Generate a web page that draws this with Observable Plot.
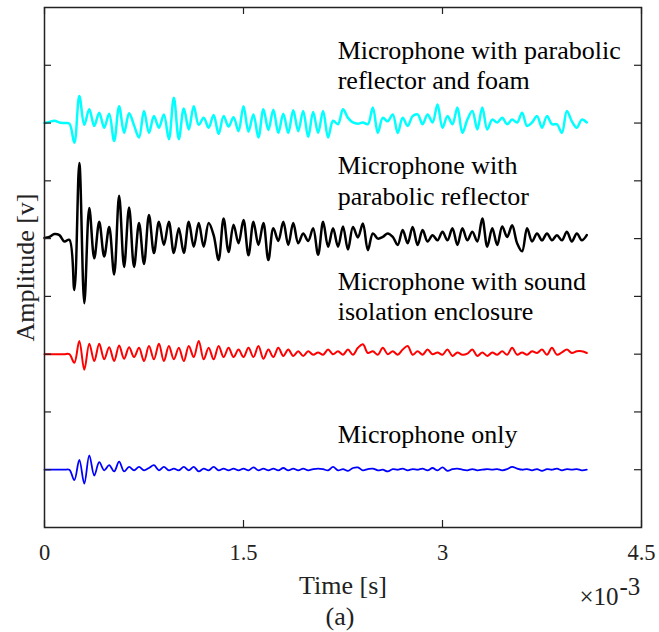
<!DOCTYPE html>
<html>
<head>
<meta charset="utf-8">
<script src="https://cdn.jsdelivr.net/npm/d3@7"></script>
<script src="https://cdn.jsdelivr.net/npm/@observablehq/plot@0.6"></script>
<style>
  html, body { margin: 0; padding: 0; background: #fff; }
  #chart svg { display: block; }
</style>
</head>
<body>
<div id="chart"></div>
<script>
// ---- data ----
const seriesNames = ["Microphone with parabolic\nreflector and foam", "Microphone with\nparabolic reflector", "Microphone with sound\nisolation enclosure", "Microphone only"];
const seriesColors = ["#00ffff", "#000000", "#ff0000", "#0000ff"];
const seriesOffsets = [70, 50, 30, 10];
const sampleStep = 3.75e-5; // seconds between samples

const cyanValues = [
  0.0, 0.2, 0.4, 0.1, 0.0, -0.1, -3.4, 4.7, -0.3, 2.4,
  -0.5, 1.8, -0.8, 1.6, -3.1, 2.9, -1.7, 1.7, -0.4, -2.5,
  2.1, -1.7, 1.2, -0.8, 1.5, -2.8, 4.4, -2.8, 2.5, -1.1,
  2.9, -0.3, 0.9, -0.8, 1.4, -1.9, 1.2, -0.6, 1.0, -1.4,
  2.9, -1.5, 1.5, -2.5, 2.4, -1.2, 2.3, -1.7, 1.6, -1.7,
  2.2, -1.4, 2.1, -2.4, 1.9, -1.7, 2.1, -2.5, 0.4, -0.2,
  2.4, 0.9, 0.1, -0.1, 0.1, -0.2, 2.7, -1.7, 0.9, 0.3,
  1.5, -1.7, 0.9, -0.5, 1.2, 1.5, -0.2, 1.5, 0.1, 3.2,
  -0.8, 1.2, -0.2, 2.7, -1.7, 0.6, 2.1, -1.1, 2.7, -1.1,
  0.6, 0.1, 0.9, -0.2, 0.6, 0.1, 1.8, -0.5, 0.1, 1.2,
  -0.8, 1.2, -0.2, -0.2, -1.7, 2.1, 0.3, -0.8, 0.6, 0.1
];
const blackValues = [
  0.1, 0.3, 0.8, 0.6, -0.5, -0.2, -8.9, 13.1, -11.2, 5.3,
  -3.4, 2.9, -3.1, 2.0, -6.2, 7.4, -4.9, 5.4, -4.9, 2.7,
  -4.4, 4.1, -2.5, 2.9, -1.1, 2.9, -2.5, 1.8, -2.5, 2.9,
  -1.4, 2.7, -1.4, 2.7, 0.6, -3.7, 3.5, -2.3, 2.4, -0.8,
  3.2, -2.9, 2.9, -1.1, 2.7, -3.7, 1.8, -0.4, 2.9, -1.1,
  2.7, -0.8, 0.9, -0.4, 1.8, -2.8, 2.9, -1.4, 1.8, -1.4,
  2.1, -1.9, 2.0, 0.2, 2.6, -2.0, 0.9, 0.0, 0.3, 0.9,
  0.3, -1.1, 1.5, -0.8, 2.0, -1.1, 1.5, -0.5, 0.6, -0.3,
  1.2, -0.3, 1.8, -1.1, 1.8, -0.3, 1.2, -0.5, 3.5, -1.4,
  1.8, -1.1, 2.1, 0.3, 2.3, -0.8, -2.2, 1.8, -0.5, 0.9,
  -0.3, 0.9, -0.3, 0.6, -0.3, 1.2, -0.5, 0.9, -0.3, 0.6
];
const redValues = [
  0, 0, 0, 0, 0, 0, -1.5, 2.3, -2.7, 1.8,
  -1.2, 1.8, -0.9, 1.2, -1.2, 1.5, -0.8, 1.2, -0.5, 1.1,
  -1.2, 1.4, -0.9, 1.8, -1.2, 1.4, -0.9, 1.1, -1.2, 1.4,
  -0.5, 2.3, -0.9, 1.1, -0.9, 1.4, -0.5, 1.1, -0.5, 0.8,
  -0.5, 1.1, -0.5, 1.4, -0.8, 0.8, -0.5, 1.1, -0.3, 0.8,
  -0.3, 0.5, -0.3, 0.5, -0.1, 0.3, -0.1, 0.8, 0.0, 0.5,
  -0.1, 0.8, -0.1, 1.1, 1.7, 0.2, 0.5, -0.1, 1.1, 0.0,
  0.5, -0.1, 0.8, 1.4, -0.1, 0.5, -0.1, 0.8, 0.0, 0.3,
  -0.1, 0.8, -0.3, 0.3, -0.1, 0.1, 0.8, -0.3, 0.3, -0.3,
  0.3, -0.1, 0.5, -0.1, 1.1, -0.1, 0.3, -0.1, 0.5, 0.2,
  0.8, -0.1, 1.1, -0.1, 0.3, 0.8, 0.2, 0.5, 0.5, 0.2
];
const blueValues = [
  0, 0, 0, 0, 0, 0, -1.8, 1.7, -2.4, 2.5,
  -1.0, 1.3, -0.1, 0.8, -0.3, 1.4, -0.3, 0.5, -0.1, 0.5,
  -0.1, 0.3, 0.8, -0.1, 0.5, -0.1, 0.2, -0.1, 0.5, -0.1,
  0.5, -0.3, 0.2, -0.1, 0.5, -0.1, 0.2, -0.1, 0.2, -0.1,
  0.2, -0.1, 0.4, -0.1, 0.2, -0.1, 0.2, -0.1, 0.3, -0.1,
  0.2, -0.1, 0.2, -0.1, 0.1, 0.2, 0.1, -0.1, 0.5, -0.1,
  0.1, -0.2, 0.3, 0.4, -0.1, 0.1, 0.2, -0.1, 0.0, -0.3,
  0.1, 0.0, 0.2, -0.1, 0.1, 0.0, 0.2, -0.1, 0.3, -0.1,
  0.4, -0.2, 0.1, 0.2, 0.0, -0.1, 0.1, -0.1, 0.0, 0.1,
  0.0, 0.1, -0.1, 0.1, 0.5, 0.2, 0.0, 0.1, -0.1, 0.1,
  -0.2, 0.1, 0.0, 0.2, -0.1, 0.1, 0.0, 0.1, -0.1, 0.0
];
const seriesValues = [cyanValues, blackValues, redValues, blueValues];

const xTicks = [0, 0.0015, 0.003, 0.0045];
const xTickLabels = ["0", "1.5", "3", "4.5"];
const yTicks = [10, 20, 30, 40, 50, 60, 70, 80];

// ---- table ----
const rows = [];
seriesNames.forEach((name, s) => {
  seriesValues[s].forEach((v, i) => rows.push({series: name, t: i * sampleStep, y: seriesOffsets[s] + v}));
});
const labels = seriesNames.map((name, s) => ({name, offset: seriesOffsets[s], lines: name.split("\n").length}));
const strokeWidths = [2.5, 2.5, 2, 1.8];

const font = "'Liberation Serif', 'Times New Roman', serif";
const tickFs = 22.5;
const labelFs = 26;

const chart = Plot.plot({
  width: 659,
  height: 632,
  marginLeft: 44,
  marginRight: 18,
  marginTop: 7,
  marginBottom: 105,
  style: {fontFamily: font, fontSize: tickFs + "px", color: "#000", background: "#fff"},
  x: {domain: [0, 0.0045]},
  y: {domain: [0, 90], axis: null},
  color: {domain: seriesNames, range: seriesColors},
  marks: [
    ...seriesNames.map((name, s) =>
      Plot.lineY(rows.filter(r => r.series === name), {x: "t", y: "y", stroke: seriesColors[s], strokeWidth: strokeWidths[s], strokeLinejoin: "round", curve: "catmull-rom"})
    ),
    // inward ticks on four sides
    Plot.tickX(xTicks, {x: d => d, insetTop: 513, stroke: "#222", strokeWidth: 1.2}),
    Plot.tickX(xTicks, {x: d => d, insetBottom: 513, stroke: "#222", strokeWidth: 1.2}),
    Plot.tickY(yTicks, {y: d => d, insetRight: 590, stroke: "#222", strokeWidth: 1.2}),
    Plot.tickY(yTicks, {y: d => d, insetLeft: 590, stroke: "#222", strokeWidth: 1.2}),
    Plot.frame({stroke: "#222", strokeWidth: 1.5}),
    Plot.axisX(xTicks, {anchor: "bottom", tickSize: 0, tickPadding: 17, tickFormat: (d, i) => xTickLabels[i], label: null, fontSize: tickFs, fill: "#222"}),
    // series labels
    Plot.text(labels.filter(d => d.lines > 1), {x: () => 0.00221, y: "offset", text: "name", textAnchor: "start", lineAnchor: "bottom", lineHeight: 1.16, dy: -34, fontSize: labelFs, fill: "#000"}),
    Plot.text(labels.filter(d => d.lines === 1), {x: () => 0.00221, y: "offset", text: "name", textAnchor: "start", lineAnchor: "bottom", dy: -27, fontSize: labelFs, fill: "#000"}),
    // axis titles and footer
    Plot.text(["Amplitude [v]"], {frameAnchor: "left", rotate: -90, dx: -11, textAnchor: "middle", lineAnchor: "bottom", fontSize: labelFs, fill: "#222"}),
    Plot.text(["Time [s]"], {frameAnchor: "bottom", dy: 48, lineAnchor: "top", fontSize: labelFs, fill: "#222"}),
    Plot.text(["(a)"], {frameAnchor: "bottom", dx: -3, dy: 79, lineAnchor: "top", fontSize: labelFs, fill: "#222"}),
    Plot.text(["\u00d710"], {frameAnchor: "bottom-right", dx: -23, dy: 60, textAnchor: "end", lineAnchor: "top", fontSize: 25, fill: "#222"}),
    Plot.text(["-3"], {frameAnchor: "bottom-right", dx: -22, dy: 50, textAnchor: "start", lineAnchor: "top", fontSize: 25, fill: "#222"})
  ]
});
document.getElementById("chart").appendChild(chart);
</script>
</body>
</html>
